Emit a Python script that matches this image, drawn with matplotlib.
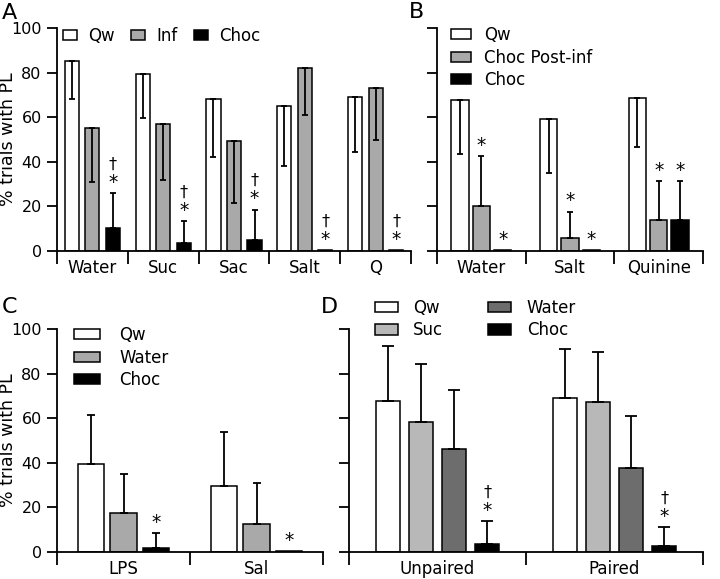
import numpy as np
import matplotlib
matplotlib.use("Agg")
import matplotlib.pyplot as plt

plt.rcParams['font.family'] = ['DejaVu Sans']
plt.rcParams['font.size'] = 11.5

# ---- panel A data
A_cats = ['Water', 'Suc', 'Sac', 'Salt', 'Q']
A_qw = [85, 79.5, 68, 65, 69]
A_qw_err = [17, 20, 26, 27, 24.5]
A_inf = [55, 57, 49.5, 82, 73]
A_inf_err = [24, 25, 28, 21, 23]
A_choc = [10.5, 3.5, 5, 0.3, 0.3]
A_choc_err = [15.5, 10, 13.5, 0, 0]

# ---- panel B data
B_cats = ['Water', 'Salt', 'Quinine']
B_qw = [67.5, 59, 68.6]
B_qw_err = [24, 24, 22]
B_post = [20.4, 5.7, 13.9]
B_post_err = [22, 12, 17.4]
B_choc = [0.3, 0.3, 13.9]
B_choc_err = [0, 0, 17.4]

# ---- panel C data
C_cats = ['LPS', 'Sal']
C_qw = [39.3, 29.5]
C_qw_err = [22.2, 24.3]
C_water = [17.5, 12.7]
C_water_err = [17.6, 18.2]
C_choc = [2, 0.3]
C_choc_err = [6.4, 0]

# ---- panel D data
D_cats = ['Unpaired', 'Paired']
D_qw = [67.5, 69]
D_qw_err = [24.7, 22]
D_suc = [58.3, 67.2]
D_suc_err = [26, 22.5]
D_water = [46.3, 37.5]
D_water_err = [26.4, 23.4]
D_choc = [3.4, 2.8]
D_choc_err = [10.5, 8.3]

WHITE = 'white'
GRAY = '#a9a9a9'
LGRAY = '#b8b8b8'
DGRAY = '#6d6d6d'
BLACK = 'black'


def panel(ax, cats, series, width, spacing, capsize):
    ''' series: list of (label, values, errors, direction, color, marks) '''
    n = len(series)
    xs = np.arange(len(cats))
    for k, (label, vals, errs, direction, color, marks) in enumerate(series):
        off = (k - (n - 1) / 2) * spacing
        ax.bar(xs + off, vals, width, color=color, edgecolor='black',
               linewidth=1.1, label=label, zorder=2)
        for i in range(len(cats)):
            v, e = vals[i], errs[i]
            if e > 0:
                if direction == 'down':
                    yerr = [[e], [0]]
                else:
                    yerr = [[0], [e]]
                ax.errorbar(xs[i] + off, v, yerr=yerr, fmt='none', ecolor='black',
                            elinewidth=1.3, capsize=capsize, capthick=1.3, zorder=3)
            if marks:
                top = v + (e if direction == 'up' else 0)
                ax.annotate('*', xy=(xs[i] + off, top), xytext=(0, 1),
                            textcoords='offset points', ha='center', va='bottom',
                            fontsize=13.5)
                if '†' in marks:
                    ax.annotate('†', xy=(xs[i] + off, top), xytext=(0, 15.5),
                                textcoords='offset points', ha='center', va='bottom',
                                fontsize=11.5)
    ax.set_xlim(-0.5, len(cats) - 0.5)
    ax.set_ylim(0, 100)
    ax.set_xticks(np.arange(len(cats) + 1) - 0.5)
    ax.set_xticklabels([])
    ax.set_xticks(xs, minor=True)
    ax.set_xticklabels(cats, minor=True)
    ax.tick_params(axis='x', which='major', length=9, width=1.3, direction='out')
    ax.tick_params(axis='x', which='minor', length=0, pad=6, labelsize=12)
    ax.tick_params(axis='y', length=7, width=1.3, direction='out', labelsize=11.5, pad=4)
    ax.set_yticks([0, 20, 40, 60, 80, 100])
    for s in ['top', 'right']:
        ax.spines[s].set_visible(False)
    for s in ['left', 'bottom']:
        ax.spines[s].set_linewidth(1.3)


fig = plt.figure(figsize=(7.2, 5.79), dpi=100)

axA = fig.add_axes([57 / 720, 1 - 251 / 579, 354 / 720, 223 / 579])
axB = fig.add_axes([437 / 720, 1 - 251 / 579, 266 / 720, 223 / 579])
axC = fig.add_axes([57 / 720, 1 - 552 / 579, 266 / 720, 223 / 579])
axD = fig.add_axes([349 / 720, 1 - 552 / 579, 354 / 720, 223 / 579])

panel(axA, A_cats, [
    ('Qw', A_qw, A_qw_err, 'down', WHITE, ''),
    ('Inf', A_inf, A_inf_err, 'down', GRAY, ''),
    ('Choc', A_choc, A_choc_err, 'up', BLACK, '†*'),
], 0.2, 0.29, 2.5)

panel(axB, B_cats, [
    ('Qw', B_qw, B_qw_err, 'down', WHITE, ''),
    ('Choc Post-inf', B_post, B_post_err, 'up', GRAY, '*'),
    ('Choc', B_choc, B_choc_err, 'up', BLACK, '*'),
], 0.195, 0.24, 2.5)

panel(axC, C_cats, [
    ('Qw', C_qw, C_qw_err, 'up', WHITE, ''),
    ('Water', C_water, C_water_err, 'up', GRAY, ''),
    ('Choc', C_choc, C_choc_err, 'up', BLACK, '*'),
], 0.2, 0.243, 3.2)

panel(axD, D_cats, [
    ('Qw', D_qw, D_qw_err, 'up', WHITE, ''),
    ('Suc', D_suc, D_suc_err, 'up', LGRAY, ''),
    ('Water', D_water, D_water_err, 'up', DGRAY, ''),
    ('Choc', D_choc, D_choc_err, 'up', BLACK, '†*'),
], 0.133, 0.187, 4.3)

axB.set_yticklabels([])
axD.set_yticklabels([])
axA.set_ylabel('% trials with PL', fontsize=12.5)
axC.set_ylabel('% trials with PL', fontsize=12.5)
axA.yaxis.set_label_coords(-40 / 354, 0.5)
axC.yaxis.set_label_coords(-40 / 266, 0.5)

leg_kw = dict(frameon=False, borderaxespad=0, borderpad=0, fontsize=12,
              loc='upper left')
axA.legend(bbox_to_anchor=(6 / 354, 1.005), ncol=3, handlelength=0.84,
           handleheight=0.52, handletextpad=0.66, columnspacing=1.0, **leg_kw)
axB.legend(bbox_to_anchor=(14 / 266, 1.008), ncol=1, handlelength=1.2,
           handleheight=0.55, handletextpad=0.8, labelspacing=0.27, **leg_kw)
axC.legend(bbox_to_anchor=(17 / 266, 1.013), ncol=1, handlelength=1.56,
           handleheight=0.55, handletextpad=1.14, labelspacing=0.27, **leg_kw)
axD.legend(bbox_to_anchor=(26 / 354, 1.135), ncol=2, handlelength=1.35,
           handleheight=0.55, handletextpad=0.95, labelspacing=0.27,
           columnspacing=2.7, **leg_kw)

fig.text(2 / 720, 1 - 19 / 579, 'A', fontsize=16, va='baseline', ha='left')
fig.text(409 / 720, 1 - 18 / 579, 'B', fontsize=16, va='baseline', ha='left')
fig.text(2 / 720, 1 - 313 / 579, 'C', fontsize=16, va='baseline', ha='left')
fig.text(321 / 720, 1 - 313 / 579, 'D', fontsize=16, va='baseline', ha='left')

fig.savefig('out.png', dpi=100)
